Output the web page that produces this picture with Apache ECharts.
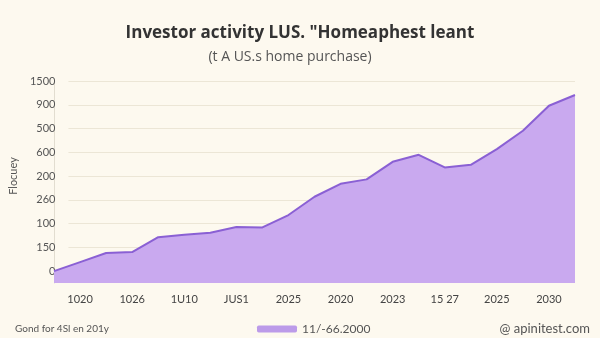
<!DOCTYPE html>
<html>
<head>
<meta charset="utf-8">
<script src="https://cdn.jsdelivr.net/npm/echarts@6/dist/echarts.min.js"></script>
<style>
html,body{margin:0;padding:0;background:#fdf9ef;}
#chart{width:600px;height:338px;}
</style>
</head>
<body>
<div id="chart"></div>
<script>
// categories (21 points, labels shown at odd positions)
const categories = ['', '1020', '', '1026', '', '1U10', '', 'JUS1', '', '2025', '', '2020', '', '2023', '', '15 27', '', '2025', '', '2030', ''];
// series values (on the chart's linear scale; each grid step = 200)
const seriesValues = [0, 76, 152, 160, 286, 306, 323, 371, 368, 472, 626, 735, 772, 920, 979, 873, 895, 1027, 1181, 1392, 1482];
// y tick labels, bottom to top
const yTickLabels = ['0', '150', '100', '260', '200', '600', '500', '900', '1500'];
const seriesName = '11/-66.2000';

const chart = echarts.init(document.getElementById('chart'), null, {renderer: 'canvas'});
const FONT = 'Lato';
chart.setOption({
  backgroundColor: '#fdf9ef',
  animation: false,
  textStyle: {fontFamily: FONT},
  title: [
    {text: 'Investor activity LUS. "Homeaphest leant', left: 'center', top: 20,
     textStyle: {fontFamily: 'Open Sans', fontSize: 17, fontWeight: 'bold', color: '#333'}},
    {text: '(t A US.s home purchase)', left: 285, top: 45, textAlign: 'center',
     textStyle: {fontFamily: 'Open Sans', fontSize: 14, fontWeight: 'normal', color: '#555'}},
    {text: 'Gond for 4Sl en 201y', left: 10, top: 319,
     textStyle: {fontFamily: FONT, fontSize: 10, fontWeight: 'normal', color: '#555'}},
    {text: '@ apinitest.com', right: 5, top: 317,
     textStyle: {fontFamily: FONT, fontSize: 13, fontWeight: 'normal', color: '#555'}}
  ],
  legend: {
    data: [seriesName], left: 252, top: 318, itemWidth: 40, itemHeight: 7, itemGap: 8,
    icon: 'roundRect',
    textStyle: {fontFamily: FONT, fontSize: 12, color: '#555'}
  },
  grid: [
    {left: 54, right: 25, top: 81, bottom: 55},
    {left: 54, right: 25, top: 81, bottom: 67}
  ],
  xAxis: [
    {type: 'category', gridIndex: 0, data: categories, boundaryGap: false,
     axisLine: {show: false}, axisTick: {show: false},
     axisLabel: {interval: 0, margin: 11, fontSize: 11, color: '#444', fontFamily: FONT},
     splitLine: {show: false}},
    {type: 'value', gridIndex: 1, show: false, min: 0, max: 1}
  ],
  yAxis: [
    {type: 'value', gridIndex: 0, min: -100, max: 1600,
     axisLabel: {show: false}, axisTick: {show: false}, splitLine: {show: false},
     axisLine: {show: true, lineStyle: {color: '#e2ddd0', width: 1}}},
    {type: 'value', gridIndex: 1, min: 0, max: 1600, interval: 200,
     name: 'Flocuey', nameLocation: 'middle', nameGap: 40, nameRotate: 90,
     nameTextStyle: {fontFamily: FONT, fontSize: 11, color: '#555'},
     axisLine: {show: false}, axisTick: {show: false},
     axisLabel: {margin: 13, fontSize: 11, color: '#555', fontFamily: FONT,
       formatter: v => yTickLabels[Math.round(v / 200)]},
     splitLine: {show: true, lineStyle: {color: '#ece6d6', width: 1}}}
  ],
  series: [{
    name: seriesName, type: 'line', xAxisIndex: 0, yAxisIndex: 0,
    data: seriesValues, symbol: 'none', smooth: false,
    lineStyle: {color: '#8a60d4', width: 2},
    itemStyle: {color: '#bc9be9'},
    areaStyle: {color: '#c9a9ef', opacity: 1, origin: 'start'}
  }]
});
</script>
</body>
</html>
